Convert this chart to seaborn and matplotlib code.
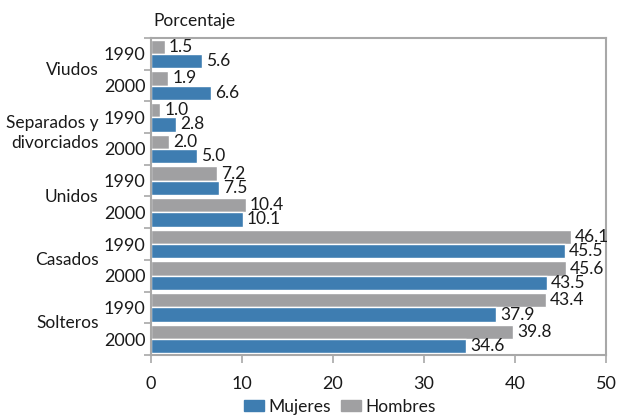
import matplotlib
matplotlib.use("Agg")
import matplotlib.pyplot as plt
from matplotlib.ticker import FixedLocator
import pandas as pd
import seaborn as sns

# Marital status shares (%) by sex and census year
categories = ["Viudos", "Separados y\ndivorciados", "Unidos", "Casados", "Solteros"]
years = ["1990", "2000"]
hombres = [1.5, 1.9, 1.0, 2.0, 7.2, 10.4, 46.1, 45.6, 43.4, 39.8]
mujeres = [5.6, 6.6, 2.8, 5.0, 7.5, 10.1, 45.5, 43.5, 37.9, 34.6]
x_ticks = [0, 10, 20, 30, 40, 50]

BLUE = "#3E7DB1"
GRAY = "#A0A0A2"
FRAME = "#A8A8A8"
TEXT = "#1A1A1A"
FS = 12.5

sns.set_theme(style="white")
plt.rcParams["font.family"] = ["Lato", "DejaVu Sans"]
plt.rcParams["font.size"] = FS

slots = [f"{c}|{y}" for c in categories for y in years]
df = pd.DataFrame({
    "slot": slots * 2,
    "sexo": ["Hombres"] * len(slots) + ["Mujeres"] * len(slots),
    "valor": hombres + mujeres,
})

fig = plt.figure(figsize=(6.21, 4.15), dpi=100)
ax = fig.add_axes([151 / 621, 1 - 355 / 415, 455 / 621, 317 / 415])

sns.barplot(data=df, y="slot", x="valor", hue="sexo", order=slots,
            hue_order=["Hombres", "Mujeres"],
            palette={"Hombres": GRAY, "Mujeres": BLUE},
            orient="h", width=0.9, saturation=1, ax=ax, legend=False)

for cont in ax.containers:
    ax.bar_label(cont, fmt="%.1f", padding=3, fontsize=FS, color=TEXT)

ax.set_xlim(0, 50)
ax.set_ylim(len(slots) - 0.5, -0.5)
ax.set_xlabel("")
ax.set_ylabel("")

ax.set_xticks(x_ticks)
ax.set_xticklabels([str(t) for t in x_ticks], color=TEXT, fontsize=FS + 0.5)
ax.set_yticks(range(len(slots)))
ax.set_yticklabels(years * len(categories), color=TEXT, fontsize=FS + 0.5)
ax.yaxis.set_minor_locator(FixedLocator([i - 0.5 for i in range(len(slots) + 1)]))

ax.tick_params(axis="y", which="major", length=0, pad=4)
ax.tick_params(axis="y", which="minor", length=5, width=1.2, color=FRAME, left=True)
ax.tick_params(axis="x", which="major", length=6, width=1.2, color=FRAME,
               bottom=True, pad=9)

for sp in ax.spines.values():
    sp.set_visible(True)
    sp.set_color(FRAME)
    sp.set_linewidth(1.5)

# Category labels centred on each pair of years
for i, cat in enumerate(categories):
    ax.text(-0.115, 2 * i + 0.5, cat, transform=ax.get_yaxis_transform(),
            ha="right", va="center", multialignment="right",
            fontsize=FS, color=TEXT, linespacing=1.25)

fig.text(153 / 621, 1 - 21 / 415, "Porcentaje", ha="left", va="center",
         fontsize=FS, color=TEXT)

handles = [plt.Rectangle((0, 0), 1, 1, color=BLUE),
           plt.Rectangle((0, 0), 1, 1, color=GRAY)]
fig.legend(handles, ["Mujeres", "Hombres"], loc="center",
           bbox_to_anchor=(340 / 621, 1 - 407 / 415), ncol=2, frameon=False,
           fontsize=FS, handlelength=1.15, handleheight=0.6,
           handletextpad=0.25, columnspacing=0.55, labelcolor=TEXT)

fig.savefig("out.png", dpi=100)
